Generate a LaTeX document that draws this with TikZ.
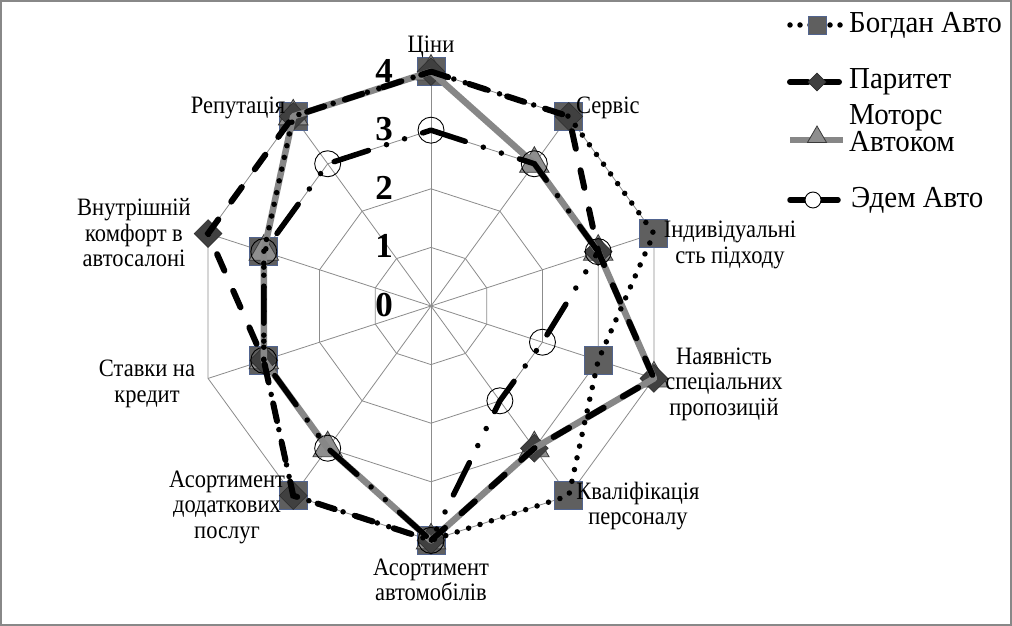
\documentclass[tikz,border=0pt]{standalone}
\usepackage{fontspec}
\setmainfont{Liberation Serif}
\newfontfamily\labfont[FakeStretch=0.9]{Liberation Serif}
\newfontfamily\legfont[FakeStretch=0.95]{Liberation Serif}
\usetikzlibrary{shapes.geometric}
\definecolor{gridgray}{HTML}{8C8C8C}
\definecolor{framegray}{HTML}{888888}
\definecolor{sqfill}{HTML}{5F5F5F}
\definecolor{sqborder}{HTML}{51648F}
\definecolor{dmfill}{HTML}{404040}
\definecolor{trfill}{HTML}{8E8E8E}
\definecolor{trborder}{HTML}{3A3A3A}
\definecolor{motorsgray}{HTML}{878787}
\begin{document}
\begin{tikzpicture}[x=1pt,y=1pt,
  gridline/.style={draw=gridgray, line width=0.8pt},
  bogdanline/.style={draw=black, line width=5.5pt, line cap=round, dash pattern=on 0pt off 12pt},
  paritetline/.style={draw=black, line width=6pt, line cap=round, dash pattern=on 18pt off 22pt},
  motorsline/.style={draw=motorsgray, line width=6.5pt, line join=round},
  edemline/.style={draw=black, line width=5.5pt, line cap=round, dash pattern=on 36pt off 19pt on 0pt off 19pt on 0pt off 19pt},
  sqmark/.style={rectangle, minimum size=28pt, inner sep=0pt, fill=sqfill, draw=sqborder, line width=0.9pt},
  dmmark/.style={diamond, minimum size=28pt, inner sep=0pt, fill=dmfill, draw=dmfill!70!black, line width=0.6pt},
  trmark/.style={regular polygon, regular polygon sides=3, minimum size=34pt, inner sep=0pt, fill=trfill, draw=trborder, line width=0.8pt},
  cimark/.style={circle, minimum size=26pt, inner sep=0pt, draw=black, line width=0.9pt},
  axlabel/.style={font=\labfont\fontsize{25}{25.5}\selectfont, align=center, inner sep=0pt},
  numlabel/.style={font=\fontsize{35}{35}\selectfont\bfseries, inner sep=0pt},
  legtext/.style={font=\legfont\fontsize{30.5}{25}\selectfont, align=left, anchor=west, inner sep=0pt}
]
\useasboundingbox (0,0) rectangle (1012,626);
\fill[white] (0,0) rectangle (1012,626);
\draw[framegray, line width=2pt] (1,1) rectangle (1011,625);

\begin{scope}[shift={(431,320)}]
  % grid
  \foreach \k in {1,...,4}
    \draw[gridline] (90:{\k*58.6}) \foreach \a in {54,18,...,-234} {-- (\a:{\k*58.6})} -- cycle;
  \foreach \a in {90,54,...,-234}
    \draw[gridline] (0,0) -- (\a:234.4);

  % axis numbers
  \foreach \k in {0,...,4}
    \node[numlabel] (num\k) at (-47,{\k*58.6+1}) {\k};

  % data coordinates
  \foreach \v [count=\i from 0] in {4,4,4,3,4,4,4,3,3,4}
    \coordinate (B\i) at ({90-36*\i}:{\v*58.6});
  \foreach \v [count=\i from 0] in {4,4,3,4,3,4,4,3,4,4}
    \coordinate (P\i) at ({90-36*\i}:{\v*58.6});
  \foreach \v [count=\i from 0] in {4,3,3,4,3,4,3,3,3,4}
    \coordinate (M\i) at ({90-36*\i}:{\v*58.6});
  \foreach \v [count=\i from 0] in {3,3,3,2,2,4,3,3,3,3}
    \coordinate (E\i) at ({90-36*\i}:{\v*58.6});

  % markers (filled)
  \foreach \i in {0,...,9} \node[sqmark] (mB\i) at (B\i) {};
  \foreach \i in {0,...,9} \node[trmark] (mM\i) at (M\i) {};
  \foreach \i in {0,...,9} \node[dmmark] (mP\i) at (P\i) {};

  % lines
  \draw[motorsline] (M0) -- (M1) -- (M2) -- (M3) -- (M4) -- (M5) -- (M6) -- (M7) -- (M8) -- (M9) -- cycle;
  \draw[edemline] (E0) -- (E1) -- (E2) -- (E3) -- (E4) -- (E5) -- (E6) -- (E7) -- (E8) -- (E9) -- cycle;
  \draw[paritetline] (P0) -- (P1) -- (P2) -- (P3) -- (P4) -- (P5) -- (P6) -- (P7) -- (P8) -- (P9) -- cycle;
  \draw[bogdanline] (B0) -- (B1) -- (B2) -- (B3) -- (B4) -- (B5) -- (B6) -- (B7) -- (B8) -- (B9) -- cycle;

  % open circles
  \foreach \i in {0,...,9} \node[cimark] (mE\i) at (E\i) {};
\end{scope}

% axis labels
\node[axlabel] (lab0) at (431,579) {Ціни};
\node[axlabel, anchor=west] (lab1) at (576,518) {Сервіс};
\node[axlabel] (lab2) at (730,381) {Індивідуальні\\сть підходу};
\node[axlabel] (lab3) at (724,242) {Наявність\\спеціальних\\пропозицій};
\node[axlabel] (lab4) at (638,120) {Кваліфікація\\персоналу};
\node[axlabel] (lab5) at (431,46) {Асортимент\\автомобілів};
\node[axlabel] (lab6) at (227,119) {Асортимент\\додаткових\\послуг};
\node[axlabel] (lab7) at (147,242) {Ставки на\\кредит};
\node[axlabel] (lab8) at (134,393) {Внутрішній\\комфорт в\\автосалоні};
\node[axlabel] (lab9) at (238,518) {Репутація};

% legend
\coordinate (lgB1) at (790,601); \coordinate (lgB2) at (843,601);
\draw[bogdanline, dash pattern=on 0pt off 10pt] (lgB1) -- (lgB2);
\node[sqmark, minimum size=18pt] (lgBm) at (817,601) {};
\node[legtext] (lgBt) at (849,601) {Богдан Авто};

\coordinate (lgP1) at (790,544); \coordinate (lgP2) at (843,544);
\draw[paritetline, dash pattern=on 18pt off 13pt] (lgP1) -- (lgP2);
\node[dmmark, minimum size=18pt] (lgPm) at (817,544) {};
\node[legtext] (lgPt) at (849,544) {Паритет};

\coordinate (lgM1) at (790,486); \coordinate (lgM2) at (843,486);
\draw[motorsline] (lgM1) -- (lgM2);
\node[trmark, minimum size=22pt] (lgMm) at (817,489) {};
\node[legtext] (lgMt) at (849,498) {Моторс\\Автоком};

\coordinate (lgE1) at (790,426); \coordinate (lgE2) at (838,426);
\draw[draw=black, line width=5.5pt, line cap=round] (lgE1) -- (lgE2);
\node[cimark, minimum size=16pt, fill=white] (lgEm) at (813,426) {};
\node[legtext] (lgEt) at (851,426) {Эдем Авто};
\end{tikzpicture}
\end{document}
